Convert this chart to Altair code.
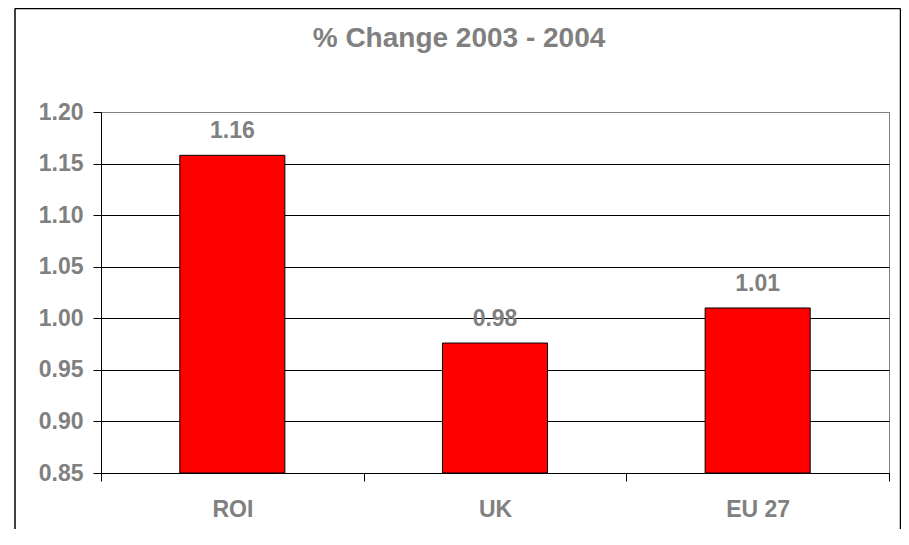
import altair as alt
import pandas as pd

categories = ["ROI", "UK", "EU 27"]
values = [1.158, 0.976, 1.010]
labels = ["1.16", "0.98", "1.01"]
y_ticks = [0.85, 0.90, 0.95, 1.00, 1.05, 1.10, 1.15, 1.20]
y_base = 0.85
title_text = "% Change 2003 - 2004"

df = pd.DataFrame({"cat": categories, "val": values, "lab": labels})

FONT = "Liberation Sans"
GREY = "#808080"

x_enc = alt.X(
    "cat:N", sort=categories, title=None,
    scale=alt.Scale(paddingInner=0, paddingOuter=0),
    axis=alt.Axis(
        tickBand="extent", grid=False, labelAngle=0,
        labelFont=FONT, labelFontSize=23, labelFontWeight="bold", labelColor=GREY,
        labelPadding=17, tickSize=8, tickColor="black", domainColor="black",
    ),
)
y_enc = alt.Y(
    "val:Q", title=None,
    scale=alt.Scale(domain=[0.85, 1.20], nice=False, zero=False),
    axis=alt.Axis(
        values=y_ticks, format=".2f", grid=True,
        gridColor={"condition": {"test": "datum.value >= 1.199", "value": GREY}, "value": "black"},
        gridOpacity=1, gridWidth=1,
        labelFont=FONT, labelFontSize=23, labelFontWeight="bold", labelColor=GREY,
        labelPadding=10, tickSize=8, tickColor="black", domainColor="black",
    ),
)

bars = alt.Chart(df).mark_bar(
    color="#FF0000", stroke="black", strokeWidth=1, width=alt.RelativeBandSize(0.4)
).encode(x=x_enc, y=y_enc, y2=alt.datum(y_base))

text = alt.Chart(df).mark_text(
    font=FONT, fontSize=23, fontWeight="bold", color=GREY,
    baseline="alphabetic", align="center", dy=-17,
).encode(x=alt.X("cat:N", sort=categories), y="val:Q", text="lab:N")

one = alt.Data(values=[{"t": title_text}])

title = alt.Chart(one).mark_text(
    font=FONT, fontSize=28, fontWeight="bold", color=GREY,
    baseline="alphabetic", align="center",
).encode(x=alt.value(358), y=alt.value(-65.3), text="t:N")

border_left = alt.Chart(one).mark_rule(color="black", strokeWidth=1.5).encode(
    x=alt.value(-86), y=alt.value(-103.5), y2=alt.value(600)
)
border_top = alt.Chart(one).mark_rule(color="black", strokeWidth=1.5).encode(
    x=alt.value(-86), x2=alt.value(799.5), y=alt.value(-103.5)
)
border_right = alt.Chart(one).mark_rule(color="black", strokeWidth=1.5).encode(
    x=alt.value(799.5), y=alt.value(-103.5), y2=alt.value(600)
)

chart = alt.layer(bars, text, title, border_left, border_top, border_right).properties(
    width=788, height=361,
    padding={"left": 93, "top": 104, "right": 12, "bottom": 56},
    autosize=alt.AutoSizeParams(type="none"),
    background="white",
).configure_view(stroke=GREY, strokeWidth=1)

chart.save("out.html", embed_options={"renderer": "svg", "actions": False})
